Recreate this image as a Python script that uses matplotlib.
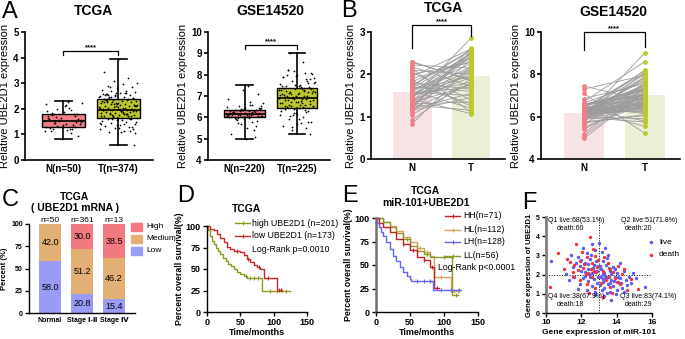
import numpy as np
import matplotlib.pyplot as plt
from matplotlib.lines import Line2D

plt.rcParams['font.family'] = ['Liberation Sans', 'DejaVu Sans']
plt.rcParams['font.weight'] = 'bold'
plt.rcParams['axes.labelweight'] = 'bold'

# ---------------- data ----------------
# A / B : TCGA
tcga_n = [1.52, 2.30, 1.21, 1.78, 0.83, 1.64, 1.95, 1.33, 1.48, 2.14, 1.12, 1.70, 1.58, 1.27, 2.05,
          1.44, 0.92, 1.86, 1.62, 1.38, 1.55, 2.22, 1.18, 1.74, 1.50, 1.30, 1.90, 1.05, 1.67, 1.42,
          2.10, 1.25, 1.80, 1.53, 1.15, 2.28, 1.46, 1.60, 1.35, 1.72, 1.20, 2.00, 1.57, 1.40, 1.83,
          1.28, 1.65, 2.18, 1.22, 1.51]
tcga_t_paired = [2.45, 1.85, 2.55, 1.30, 2.20, 1.95, 2.60, 1.75, 2.10, 1.10, 2.35, 1.60, 2.50, 2.05,
                 1.40, 2.85, 1.90, 1.25, 2.25, 2.40, 1.70, 2.15, 1.55, 2.58, 1.98, 1.35, 2.30, 1.80,
                 2.48, 1.07, 2.00, 2.52, 1.65, 2.18, 1.45, 1.88, 2.42, 1.20, 2.08, 2.56, 1.78, 2.28,
                 1.50, 1.93, 2.38, 1.15, 2.12, 1.72, 2.62, 1.82]
tcga_t_extra = [0.58, 3.93, 3.45, 3.20, 3.10, 3.00, 2.95, 2.90, 2.85, 2.80, 2.75, 2.70, 2.68, 2.65,
                2.60, 2.58, 2.55, 2.52, 2.50, 2.48, 2.45, 2.42, 2.40, 2.38, 2.36, 2.34, 2.32, 2.30,
                2.28, 2.26, 2.24, 2.22, 2.20, 2.18, 2.16, 2.14, 2.12, 2.10, 2.08, 2.06, 2.04, 2.02,
                2.00, 1.98, 1.97, 1.96, 1.94, 1.92, 1.90, 1.88, 1.86, 1.84, 1.82, 1.80, 1.78, 1.76,
                1.74, 1.72, 1.70, 1.68, 1.66, 1.64, 1.62, 1.60, 1.57, 1.54, 1.50, 1.46, 1.42, 1.38,
                1.34, 1.30, 1.25, 1.20, 1.15, 1.10, 2.41, 2.21, 2.01, 1.81, 1.61, 2.11, 1.91, 2.31,
                1.71, 2.61, 1.41, 2.05, 1.95, 2.15]
# A / B : GSE14520
gse_n = [6.15, 6.30, 5.95, 6.05, 6.40, 6.20, 5.80, 6.10, 6.55, 6.00, 6.25, 5.60, 6.35, 6.12, 6.70,
         5.90, 6.18, 6.45, 6.02, 5.40, 6.28, 6.08, 7.45, 6.22, 5.85, 6.33, 6.14, 6.60, 5.98, 6.38,
         4.97, 6.10, 6.26, 5.70, 6.48, 6.04, 6.19, 7.10, 5.92, 6.31, 6.16, 6.52, 6.07, 5.50, 6.24,
         6.36, 6.01, 6.85, 6.13, 5.88, 6.42, 6.21, 5.20, 6.29, 6.09, 6.65, 5.96, 6.34, 6.17, 7.30,
         6.03, 6.27, 5.75, 6.44, 6.11, 6.23, 5.10, 6.39, 6.06, 6.58]
gse_t_paired = [6.90, 7.40, 6.50, 7.80, 6.20, 7.10, 8.10, 6.70, 7.25, 5.90, 6.95, 7.60, 6.40, 7.05,
                8.60, 6.60, 7.35, 6.15, 7.90, 6.85, 5.55, 7.20, 6.75, 8.00, 6.45, 7.50, 6.30, 7.00,
                9.00, 6.55, 7.15, 6.80, 7.70, 6.10, 7.30, 6.65, 8.20, 5.22, 6.98, 7.45, 6.35, 7.08,
                7.85, 6.58, 7.22, 5.80, 6.88, 7.55, 6.48, 7.12, 8.05, 6.72, 7.38, 6.25, 6.92, 7.65,
                5.75, 7.02, 6.62, 7.95, 6.42, 7.28, 6.05, 6.82, 7.48, 6.52, 7.18, 8.15, 6.68, 7.32]
gse_t_extra = [8.2, 8.1, 8.0, 7.9, 7.8, 7.7, 7.6, 7.5, 7.45, 7.4, 7.35, 7.3, 7.25, 7.2, 7.15, 7.1,
               7.05, 7.0, 6.95, 6.9, 6.85, 6.8, 6.75, 6.7, 6.65, 6.6, 6.55, 6.5, 6.45, 6.4, 6.3, 6.2,
               6.1, 6.0, 5.9, 5.8, 5.7, 5.6, 5.5, 5.4]

# box summaries: (min, q1, median, q3, max)
tcga_box = [(0.83, 1.27, 1.52, 1.78, 2.30), (0.58, 1.65, 1.97, 2.40, 3.93)]
gse_box = [(4.97, 6.00, 6.15, 6.35, 7.50), (5.22, 6.45, 6.90, 7.38, 9.00)]
tcga_labels = ['N(n=50)', 'T(n=374)']
gse_labels = ['N(n=220)', 'T(n=225)']

# C
stage_labels = ['Normal', 'Stage Ⅰ-Ⅱ', 'Stage Ⅳ']
stage_n = ['n=50', 'n=361', 'n=13']
pct_low = [58.0, 20.8, 15.4]
pct_med = [42.0, 51.2, 46.2]
pct_high = [0.0, 30.0, 38.5]

# D  (time in months, survival %)
high_t = [0, 2, 5, 8, 10, 13, 16, 20, 24, 28, 32, 36, 40, 45, 50, 55, 60, 83, 124]
high_s = [100, 95, 88, 83, 79, 75, 71, 67, 63, 59, 56, 53, 50, 47, 44, 42, 40, 24, 24]
high_c = [58, 64, 70, 76, 95, 105, 118]
low_t = [0, 5, 10, 15, 20, 25, 30, 35, 40, 50, 55, 60, 65, 70, 75, 80, 85, 105, 112]
low_s = [100, 97, 95, 91, 86, 81, 76, 73, 71, 70, 66, 62, 58, 55, 52, 50, 40, 26, 26]
low_c = [45, 62, 78, 92, 108, 111]

# E
hh_t = [0, 5, 10, 20, 30, 40, 50, 60, 70, 80, 86, 92]
hh_s = [100, 95, 90, 85, 78, 72, 66, 58, 55, 48, 26, 26]
hl_t = [0, 10, 20, 30, 40, 50, 60, 70, 80, 86, 110, 121]
hl_s = [100, 96, 91, 86, 80, 74, 68, 64, 60, 37, 22, 22]
lh_t = [0, 2, 5, 8, 10, 15, 20, 25, 30, 35, 40, 45, 50, 52, 84, 125]
lh_s = [100, 95, 90, 85, 81, 74, 67, 60, 54, 48, 43, 38, 35, 33, 23, 23]
ll_t = [0, 10, 20, 30, 40, 50, 60, 70, 80, 83, 112, 120]
ll_s = [100, 96, 90, 84, 78, 70, 65, 62, 58, 58, 18, 18]
hh_c = [40, 55, 70, 82, 90]
hl_c = [50, 65, 75, 95, 115, 120]
lh_c = [60, 70, 80, 95, 110, 122]
ll_c = [45, 60, 75, 100, 118]

# F  (miR-101 expression, UBE2D1 expression)
live_x = [10.3, 11.15, 11.5, 11.8, 12.0, 12.2, 12.3, 12.4, 12.5, 12.6, 12.7, 12.8, 12.9, 11.7, 12.1,
          12.45, 12.65, 12.85, 12.2, 11.9, 12.55, 12.75, 12.35, 11.4, 12.95, 12.6, 12.0,
          13.0, 13.1, 13.2, 13.3, 13.4, 13.5, 13.6, 13.8, 14.0, 14.2, 13.15, 13.25, 13.45, 13.7,
          13.9, 14.9, 14.4, 13.05, 13.35, 13.55,
          13.7, 14.8, 15.6, 13.1, 13.2, 13.3, 13.4, 13.5, 13.6, 13.7, 13.8, 13.9, 14.0, 14.1, 14.2,
          14.3, 14.5, 14.6, 14.7, 13.05, 13.15, 13.25, 13.35, 13.45, 13.55, 13.65, 13.85, 13.95,
          14.05, 14.25, 14.4, 13.3, 15.1,
          11.3, 11.6, 11.9, 12.1, 12.3, 12.4, 12.5, 12.6, 12.7, 12.8, 12.9, 12.2, 12.75, 11.8, 12.95]
live_y = [2.7, 2.05, 2.4, 2.9, 2.2, 2.6, 3.1, 2.3, 2.8, 2.1, 2.5, 3.3, 2.2, 2.6, 3.4,
          2.05, 2.35, 2.7, 2.15, 2.45, 3.0, 2.15, 2.55, 3.0, 2.45, 3.6, 2.75,
          3.65, 2.3, 2.7, 2.1, 2.5, 3.0, 2.2, 2.4, 2.1, 2.6, 3.2, 2.05, 2.85, 2.05,
          2.3, 2.1, 2.2, 2.45, 3.4, 2.35,
          0.68, 1.55, 1.35, 1.9, 1.6, 1.3, 1.8, 1.5, 1.1, 1.7, 1.4, 1.9, 1.2, 1.6, 1.8,
          1.3, 1.7, 1.45, 1.9, 1.45, 1.2, 1.75, 1.95, 1.05, 1.85, 1.55, 1.65, 1.0,
          1.85, 1.55, 1.1, 0.9, 1.8,
          1.7, 1.9, 1.5, 1.8, 1.2, 1.65, 1.9, 1.4, 1.75, 1.1, 1.55, 1.95, 0.95, 1.25, 1.85]
death_x = [10.7, 11.2, 11.7, 12.5, 11.0, 11.5, 11.9, 12.1, 12.3, 12.4, 12.6, 12.7, 12.8, 12.9,
           12.05, 11.6, 12.25, 12.55, 12.85, 11.35, 12.15, 12.65, 12.95, 11.8,
           14.4, 13.2, 13.5, 13.8, 14.1, 13.3, 13.65, 14.3,
           13.2, 15.2, 13.4, 13.6, 13.9, 14.2, 14.6, 13.1, 13.75, 14.0, 14.8, 13.5,
           10.2, 11.9, 12.3, 12.6, 12.8, 11.5, 12.45]
death_y = [3.1, 2.8, 3.6, 3.95, 2.3, 2.15, 2.7, 2.35, 2.9, 2.1, 2.6, 2.2, 2.95, 2.4,
           3.2, 2.5, 2.05, 2.3, 2.15, 2.65, 2.55, 3.35, 2.75, 2.25,
           2.3, 2.2, 2.6, 2.15, 2.45, 2.9, 2.3, 2.05,
           0.83, 1.25, 1.7, 1.35, 1.8, 1.5, 1.2, 1.55, 1.05, 1.6, 1.75, 1.9,
           1.35, 1.7, 1.5, 1.85, 1.3, 1.9, 1.05]

# colours
c_pink, c_olive = '#EE7F87', '#BCC82C'
c_high, c_med, c_low = '#F2797F', '#E3AF73', '#9A9AF7'

# ---------------- figure ----------------
W, H = 685, 339
fig = plt.figure(figsize=(W / 100, H / 100), dpi=100)


def box(x0, y0, x1, y1):
    return [x0 / W, 1 - y1 / H, (x1 - x0) / W, (y1 - y0) / H]


def ftext(x, y, s, **kw):
    fig.text(x / W, 1 - y / H, s, **kw)


def style(ax, lw=1.2, size=7):
    for sp in ['top', 'right']:
        ax.spines[sp].set_visible(False)
    for sp in ['left', 'bottom']:
        ax.spines[sp].set_linewidth(lw)
    ax.tick_params(width=lw, length=3, labelsize=size, pad=1.5)


def bracket(ax, lo0, lo1, top):
    ax.plot([0, 0, 1, 1], [lo0, top, top, lo1], color='k', lw=0.9, clip_on=False)
    ax.text(0.5, top, '****', ha='center', va='bottom', fontsize=5.5)


def box_panel(rect, boxes, pts, ylim, yticks, labels, brk, title, tx):
    ax = fig.add_axes(box(*rect))
    stats = [dict(whislo=b[0], q1=b[1], med=b[2], q3=b[3], whishi=b[4], fliers=[]) for b in boxes]
    bp = ax.bxp(stats, positions=[0, 1], widths=0.78, capwidths=0.32, patch_artist=True,
                showfliers=False, medianprops=dict(color='k', lw=1.2),
                boxprops=dict(lw=1.0), whiskerprops=dict(lw=1.2), capprops=dict(lw=1.2))
    for patch, c in zip(bp['boxes'], [c_pink, c_olive]):
        patch.set_facecolor(c)
    for i, p in enumerate(pts):
        p = np.asarray(p)
        off = ((np.arange(len(p)) * 0.618034) % 1 - 0.5) * 0.7
        ax.scatter(i + off, p, s=1.6, c='k', lw=0, zorder=3)
    ax.set_xlim(-0.7, 1.63)
    ax.set_ylim(*ylim)
    ax.set_yticks(yticks)
    ax.set_xticks([0, 1])
    ax.set_xticklabels(labels, fontsize=8)
    style(ax)
    ax.tick_params(axis='x', length=0, pad=3)
    ax.set_ylabel('Relative UBE2D1 expression', fontsize=8, labelpad=2, fontweight='normal')
    bracket(ax, *brk)
    ftext(tx, 11, title, ha='center', va='center', fontsize=10)
    return ax


box_panel((25, 32, 153, 160), tcga_box, [tcga_n, tcga_t_paired + tcga_t_extra], (0, 5),
          range(6), tcga_labels, (4.1, 4.1, 4.25), 'TCGA', 93)
box_panel((208, 32, 330, 160), gse_box, [gse_n, gse_t_paired + gse_t_extra], (4, 10),
          range(4, 11), gse_labels, (9.2, 9.2, 9.4), 'GSE14520', 270)


def pair_panel(rect, nv, tv, ylim, yticks, brk, title, tx, ty):
    ax = fig.add_axes(box(*rect))
    ax.bar([0, 1], [np.mean(nv), np.mean(tv)], width=0.66, color=['#F7E2E4', '#E9F0D6'], zorder=0)
    for a, b in zip(nv, tv):
        ax.plot([0, 1], [a, b], color='#9B9B9B', lw=0.6, zorder=1)
    ax.scatter(np.zeros(len(nv)), nv, s=12, c=c_pink, lw=0, zorder=2)
    ax.scatter(np.ones(len(tv)), tv, s=12, c=c_olive, lw=0, zorder=2)
    ax.set_xlim(-0.7, 1.58)
    ax.set_ylim(*ylim)
    ax.set_yticks(yticks)
    ax.set_xticks([0, 1])
    ax.set_xticklabels(['N', 'T'], fontsize=8)
    style(ax)
    ax.tick_params(axis='x', length=0, pad=3)
    ax.set_ylabel('Relative UBE2D1 expression', fontsize=8, labelpad=2, fontweight='normal')
    bracket(ax, *brk)
    ftext(tx, ty, title, ha='center', va='center', fontsize=10)


pair_panel((371, 32, 505, 159), tcga_n, tcga_t_paired, (0, 3), range(4), (2.62, 2.9, 3.17),
           'TCGA', 443, 8)
pair_panel((541, 32, 680, 159), gse_n, gse_t_paired, (4, 10), [4, 6, 8, 10], (9.15, 9.3, 10.0),
           'GSE14520', 613, 12)

# ---- C ----
ax = fig.add_axes(box(29, 224, 135, 313))
xs = np.arange(3)
ax.bar(xs, pct_low, width=0.69, color=c_low)
ax.bar(xs, pct_med, bottom=pct_low, width=0.69, color=c_med)
ax.bar(xs, pct_high, bottom=np.add(pct_low, pct_med), width=0.69, color=c_high)
for i in xs:
    segs = [(pct_low[i], 0), (pct_med[i], pct_low[i]), (pct_high[i], pct_low[i] + pct_med[i])]
    for v, b in segs:
        if v > 0:
            ax.text(i, min(b + v / 2, (b + 100) / 2), f'{v:.1f}', ha='center', va='center',
                    fontsize=6.5, fontweight='normal')
    ax.text(i, 100.5, stage_n[i], ha='center', va='bottom', fontsize=6, fontweight='normal')
ax.set_xlim(-0.66, 2.66)
ax.set_ylim(0, 100)
ax.set_yticks([0, 25, 50, 75, 100])
ax.set_xticks(xs)
ax.set_xticklabels(stage_labels, fontsize=5.5)
style(ax, lw=1.0, size=5)
ax.tick_params(axis='x', length=0, pad=3)
ax.set_ylabel('Percent (%)', fontsize=5.5, labelpad=2)
ftext(75, 197, 'TCGA', ha='center', va='center', fontsize=7.5)
ftext(75, 208, '( UBE2D1 mRNA )', ha='center', va='center', fontsize=7.5)
for yy, c, lab in [(227, c_high, 'High'), (239, c_med, 'Medium'), (251, c_low, 'Low')]:
    fig.patches.append(plt.Rectangle((131 / W, 1 - (yy + 4) / H), 11 / W, 8 / H,
                                     color=c, transform=fig.transFigure))
    ftext(146, yy, lab, ha='left', va='center', fontsize=6, fontweight='normal')


# ---- survival helpers ----
def km(ax, t, s, color, cens):
    t = np.asarray(t)
    s = np.asarray(s)
    ax.step(t, s, where='post', color=color, lw=1.0, clip_on=False)
    cy = s[np.searchsorted(t, cens, side='right') - 1]
    ax.plot(cens, cy, ls='none', marker='|', ms=3, mew=0.8, color=color, clip_on=False)


def legend_line(x, y, color):
    fig.add_artist(Line2D([x / W, (x + 15) / W], [1 - y / H, 1 - y / H], color=color, lw=1.0,
                          transform=fig.transFigure))
    fig.add_artist(Line2D([(x + 7.5) / W], [1 - y / H], marker='|', ms=3, mew=0.8, color=color,
                          transform=fig.transFigure))


def km_axes(rect):
    ax = fig.add_axes(box(*rect))
    ax.set_xlim(0, 150)
    ax.set_ylim(0, 100)
    ax.set_xticks([0, 50, 100, 150])
    ax.set_yticks([0, 25, 50, 75, 100])
    style(ax, lw=1.0, size=6.5)
    ax.tick_params(axis='x', pad=1)
    ax.set_xlabel('Time/months', fontsize=6.5, labelpad=1)
    ax.set_ylabel('Percent overall survival(%)', fontsize=6.3, labelpad=1)
    return ax


# ---- D ----
c_dh, c_dl = '#8E9A1E', '#C8262B'
ax = km_axes((207, 226, 307, 312))
km(ax, high_t, high_s, c_dh, high_c)
km(ax, low_t, low_s, c_dl, low_c)
ftext(246, 209, 'TCGA', ha='center', va='center', fontsize=7.5)
legend_line(235, 223, c_dh)
legend_line(235, 236, c_dl)
ftext(252, 223, 'high UBE2D1 (n=201)', va='center', fontsize=6.3, fontweight='normal')
ftext(252, 236, 'low UBE2D1 (n=173)', va='center', fontsize=6.3, fontweight='normal')
ftext(252, 249, 'Log-Rank p=0.0010', va='center', fontsize=6.3, fontweight='normal')

# ---- E ----
c_hh, c_hl, c_lh, c_ll = '#C02020', '#D9A25C', '#6464F5', '#8E9A28'
ax = km_axes((376, 218, 478, 312))
ax.spines['left'].set_color('#707070')
ax.spines['left'].set_linewidth(1.8)
km(ax, hl_t, hl_s, c_hl, hl_c)
km(ax, ll_t, ll_s, c_ll, ll_c)
km(ax, hh_t, hh_s, c_hh, hh_c)
km(ax, lh_t, lh_s, c_lh, lh_c)
ftext(426, 191, 'TCGA', ha='center', va='center', fontsize=7.5)
ftext(426, 203, 'miR-101+UBE2D1', ha='center', va='center', fontsize=7.5)
for yy, c, lab in [(216, c_hh, 'HH(n=71)'), (230, c_hl, 'HL(n=112)'), (242, c_lh, 'LH(n=128)'),
                   (256, c_ll, 'LL(n=56)')]:
    legend_line(445, yy, c)
    ftext(463, yy, lab, va='center', fontsize=6.3, fontweight='normal')
ftext(438, 268, 'Log-Rank p<0.0001', va='center', fontsize=6.3, fontweight='normal')

# ---- F ----
ax = fig.add_axes(box(546, 217, 652, 313))
ax.scatter(live_x, live_y, s=6, c='#5B5BF0', lw=0, zorder=2)
ax.scatter(death_x, death_y, s=6, c='#F0343F', lw=0, zorder=2)
ax.axvline(13, ls=':', color='k', lw=0.7, zorder=1)
ax.axhline(2, ls=':', color='k', lw=0.7, zorder=1)
ax.set_xlim(10, 16)
ax.set_ylim(0, 5)
ax.set_xticks([10, 12, 14, 16])
ax.set_yticks(range(6))
style(ax, lw=1.0, size=6)
ax.tick_params(axis='y', labelsize=5)
ax.spines['left'].set_color('#808080')
ax.spines['left'].set_linewidth(2)
ax.set_xlabel('Gene expression of miR-101', fontsize=6, labelpad=2)
ax.set_ylabel('Gene expression of UBE2D1', fontsize=5.5, labelpad=2)
fs = 5
ftext(548, 221, 'Q1 live:68(53.1%)', va='center', fontsize=fs, fontweight='normal')
ftext(557, 228.5, 'death:60', va='center', fontsize=fs, fontweight='normal')
ftext(677, 221, 'Q2 live:51(71.8%)', va='center', ha='right', fontsize=fs, fontweight='normal')
ftext(652, 228.5, 'death:20', va='center', ha='right', fontsize=fs, fontweight='normal')
ftext(548, 297, 'Q4 live:38(67.9%)', va='center', fontsize=fs, fontweight='normal')
ftext(557, 305, 'death:18', va='center', fontsize=fs, fontweight='normal')
ftext(676, 297, 'Q3 live:83(74.1%)', va='center', ha='right', fontsize=fs, fontweight='normal')
ftext(652, 305, 'death:29', va='center', ha='right', fontsize=fs, fontweight='normal')
fig.add_artist(Line2D([651 / W], [1 - 242 / H], marker='o', ms=2.5, mew=0, color='#5B5BF0',
                      transform=fig.transFigure))
fig.add_artist(Line2D([651 / W], [1 - 255 / H], marker='o', ms=2.5, mew=0, color='#F0343F',
                      transform=fig.transFigure))
ftext(659, 242, 'live', va='center', fontsize=6, fontweight='normal')
ftext(659, 255, 'death', va='center', fontsize=6, fontweight='normal')

# panel letters
for x, y, s in [(2, 12, 'A'), (341, 11, 'B'), (2, 200, 'C'), (177, 196, 'D'), (342, 196, 'E'),
                (522, 203, 'F')]:
    ftext(x, y, s, va='center', ha='left', fontsize=17, fontweight='normal')

fig.savefig('out.png', dpi=100)
